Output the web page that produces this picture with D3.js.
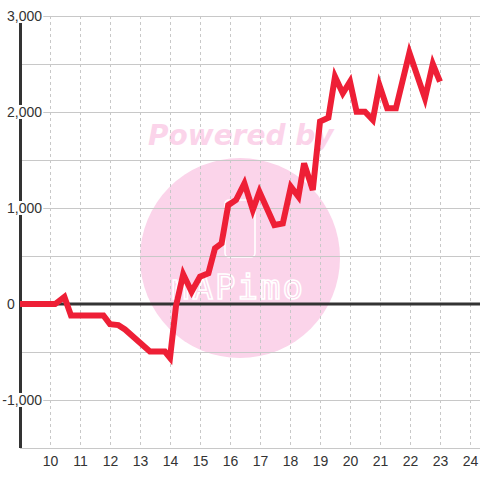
<!DOCTYPE html>
<html>
<head>
<meta charset="utf-8">
<script src="https://cdn.jsdelivr.net/npm/d3@7"></script>
<style>
  html, body { margin: 0; padding: 0; background: #fff; }
  svg { display: block; }
</style>
</head>
<body>
<svg id="chart" width="480" height="480"></svg>
<script>
// ---- data ----
const times = [9, 10.17, 10.48, 10.7, 11.78, 12.0, 12.28, 12.5, 13.33, 13.83, 14.0, 14.2, 14.44, 14.72, 15.0, 15.28, 15.5, 15.72, 15.94, 16.2, 16.48, 16.76, 16.98, 17.48, 17.76, 18.03, 18.28, 18.47, 18.76, 19.0, 19.28, 19.5, 19.76, 20.0, 20.22, 20.5, 20.76, 20.98, 21.24, 21.53, 21.98, 22.5, 22.76, 23.0];
const values = [0, 0, 75, -120, -120, -210, -220, -265, -495, -495, -560, -20, 310, 128, 285, 320, 580, 632, 1030, 1083, 1257, 980, 1170, 823, 840, 1222, 1118, 1465, 1187, 1900, 1940, 2368, 2195, 2316, 2003, 2003, 1917, 2281, 2038, 2038, 2618, 2142, 2500, 2316];
const xTicks = [10, 11, 12, 13, 14, 15, 16, 17, 18, 19, 20, 21, 22, 23, 24];
const yGridTicks = [-1500, -1000, -500, 0, 500, 1000, 1500, 2000, 2500, 3000];
const yLabelTicks = [-1000, 0, 1000, 2000, 3000];
const watermarkTop = "Powered by";
const watermarkLogo = "nAPimo";

// ---- layout ----
const svg = d3.select("#chart");
const plotL = 20, plotR = 480, plotT = 16, plotB = 448;
const x = d3.scaleLinear().domain([9, 24]).range([20, 470]);
const y = d3.scaleLinear().domain([-1500, 3000]).range([plotB, plotT]);

const pink = "#fbd4ea";

// watermark (behind everything)
const wm = svg.append("g");
wm.append("circle").attr("cx", 240).attr("cy", 258).attr("r", 100).attr("fill", pink);
wm.append("text").attr("x", 148).attr("y", 145)
  .attr("font-family", "DejaVu Sans").attr("font-weight", "bold").attr("font-style", "italic")
  .attr("font-size", 28).attr("fill", pink).text(watermarkTop);
wm.append("rect").attr("x", 225).attr("y", 200).attr("width", 30).attr("height", 57).attr("rx", 4)
  .attr("fill", "none").attr("stroke", "#fff").attr("stroke-width", 1.6);
wm.append("text").attr("x", 170).attr("y", 299)
  .attr("font-family", "DejaVu Sans Mono").attr("font-size", 34)
  .attr("letter-spacing", 2).attr("textLength", 135)
  .attr("fill", "none").attr("stroke", "#fff").attr("stroke-width", 1.6)
  .text(watermarkLogo);

// horizontal gridlines
svg.append("g").selectAll("line").data(yGridTicks).join("line")
  .attr("x1", plotL).attr("x2", plotR)
  .attr("y1", d => y(d) + 0.5).attr("y2", d => y(d) + 0.5)
  .attr("stroke", "#c8c8c8").attr("stroke-width", 1);

// vertical dashed gridlines
svg.append("g").selectAll("line").data(xTicks).join("line")
  .attr("x1", d => Math.round(x(d)) + 0.5).attr("x2", d => Math.round(x(d)) + 0.5)
  .attr("y1", plotT).attr("y2", plotB)
  .attr("stroke", "#c8c8c8").attr("stroke-width", 1).attr("stroke-dasharray", "3,3");

// zero line
svg.append("line").attr("x1", plotL).attr("x2", plotR)
  .attr("y1", y(0)).attr("y2", y(0))
  .attr("stroke", "#333").attr("stroke-width", 3);

// left axis line
svg.append("line").attr("x1", 20.5).attr("x2", 20.5)
  .attr("y1", plotT).attr("y2", plotB)
  .attr("stroke", "#333").attr("stroke-width", 3);

// y labels (left aligned, minus sign hanging), white background
const fmt = v => (v < 0 ? "-" : "") + d3.format(",")(Math.abs(v));
const yAxis = svg.append("g")
  .call(d3.axisLeft(y).tickValues(yLabelTicks).tickSize(0).tickPadding(0).tickFormat(fmt));
yAxis.select(".domain").remove();
const yText = yAxis.selectAll("text")
  .attr("font-family", "Liberation Sans, Arial, sans-serif").attr("font-size", 14)
  .attr("fill", "#333").attr("text-anchor", "start");
yAxis.selectAll(".tick").each(function (d) {
  const t = d3.select(this).select("text");
  let xPos = 7;
  if (d < 0) {
    const probe = svg.append("text").attr("font-family", "Liberation Sans, Arial, sans-serif")
      .attr("font-size", 14).text("-");
    xPos -= probe.node().getComputedTextLength();
    probe.remove();
  }
  t.attr("x", xPos);
  const bb = t.node().getBBox();
  d3.select(this).insert("rect", "text")
    .attr("x", bb.x - 1).attr("y", bb.y + 1).attr("width", bb.width + 2).attr("height", bb.height - 2)
    .attr("fill", "#fff");
});

// x labels
const xAxis = svg.append("g").attr("transform", `translate(0,${plotB})`)
  .call(d3.axisBottom(x).tickValues(xTicks).tickSize(0).tickPadding(8).tickFormat(d3.format("d")));
xAxis.select(".domain").remove();
xAxis.selectAll("text")
  .attr("font-family", "Liberation Sans, Arial, sans-serif").attr("font-size", 14)
  .attr("fill", "#333");

// data line
const pts = times.map((t, i) => [t, values[i]]);
svg.append("path").datum(pts)
  .attr("d", d3.line().x(d => x(d[0])).y(d => y(d[1])))
  .attr("fill", "none").attr("stroke", "#ee1f36").attr("stroke-width", 6)
  .attr("stroke-linejoin", "miter").attr("stroke-linecap", "butt");
</script>
</body>
</html>
